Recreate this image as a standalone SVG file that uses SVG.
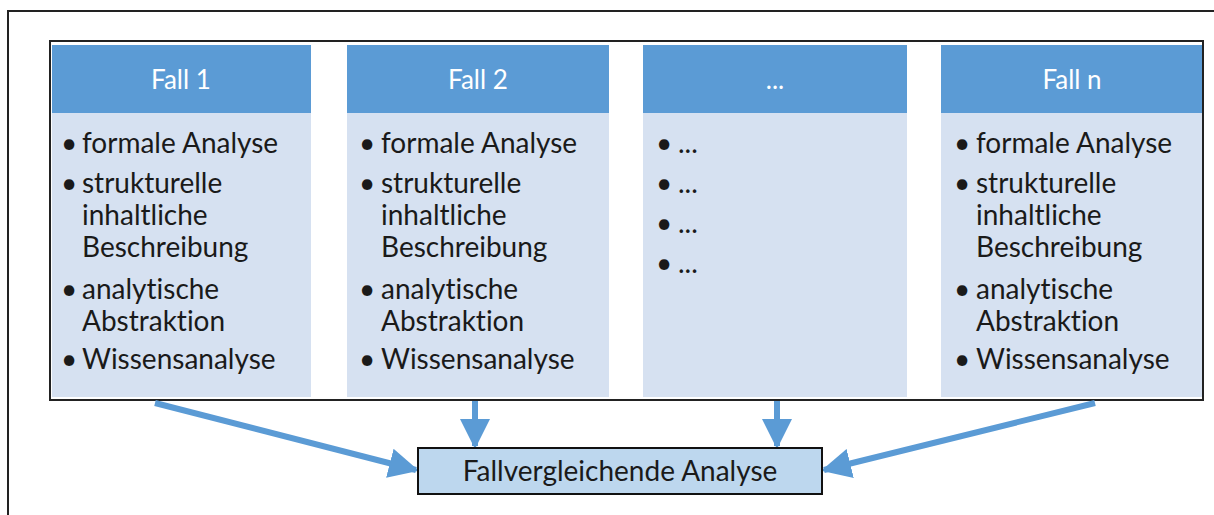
<svg xmlns="http://www.w3.org/2000/svg" width="1214" height="515" viewBox="0 0 1214 515">
<defs>
<style>
text{font-variant-ligatures:none;font-feature-settings:"liga" 0,"dlig" 0}
.hd{fill:#5B9BD5}
.bd{fill:#D6E1F1}
.ht{font-family:"Lato","Liberation Sans",sans-serif;font-size:26px;fill:#fff;text-anchor:middle}
.bt{font-family:"Lato","Liberation Sans",sans-serif;font-size:28px;fill:#1a1a1a}
.bu{font-family:"Lato","Liberation Sans",sans-serif;font-size:28px;fill:#1a1a1a;text-anchor:middle}
.ar{stroke:#5B9BD5;stroke-width:6;fill:none}
</style>
<marker id="ah" viewBox="0 0 10 10" refX="9" refY="5" markerWidth="5" markerHeight="5" orient="auto" markerUnits="strokeWidth">
<path d="M0,0 L10,5 L0,10 z" fill="#5B9BD5"/>
</marker>
</defs>
<rect width="1214" height="515" fill="#fff"/>
<path d="M8,515 L8,11 L1214,11" fill="none" stroke="#222" stroke-width="2"/>
<rect x="50" y="41" width="1153" height="359" fill="none" stroke="#222" stroke-width="2"/>
<g id="fall1">
<rect class="bd" x="52" y="113" width="259" height="284"/>
<rect class="hd" x="52" y="45" width="259" height="68"/>
<text class="ht" x="181" y="89">Fall 1</text>
<text class="bu"><tspan x="69" y="153">•</tspan><tspan x="69" y="193">•</tspan><tspan x="69" y="299">•</tspan><tspan x="69" y="369">•</tspan></text>
<text class="bt"><tspan x="82" y="153">formale Analyse</tspan><tspan x="82" y="193">strukturelle</tspan><tspan x="82" y="225">inhaltliche</tspan><tspan x="82" y="257">Beschreibung</tspan><tspan x="82" y="299">analytische</tspan><tspan x="82" y="331">Abstraktion</tspan><tspan x="82" y="369">Wissensanalyse</tspan></text>
</g>
<g id="fall2">
<rect class="bd" x="347" y="113" width="262" height="284"/>
<rect class="hd" x="347" y="45" width="262" height="68"/>
<text class="ht" x="478" y="89">Fall 2</text>
<text class="bu"><tspan x="367" y="153">•</tspan><tspan x="367" y="193">•</tspan><tspan x="367" y="299">•</tspan><tspan x="367" y="369">•</tspan></text>
<text class="bt"><tspan x="381" y="153">formale Analyse</tspan><tspan x="381" y="193">strukturelle</tspan><tspan x="381" y="225">inhaltliche</tspan><tspan x="381" y="257">Beschreibung</tspan><tspan x="381" y="299">analytische</tspan><tspan x="381" y="331">Abstraktion</tspan><tspan x="381" y="369">Wissensanalyse</tspan></text>
</g>
<g id="dots">
<rect class="bd" x="643" y="113" width="264" height="284"/>
<rect class="hd" x="643" y="45" width="264" height="68"/>
<text class="ht" x="775" y="89">...</text>
<text class="bu"><tspan x="664" y="153">•</tspan><tspan x="664" y="193">•</tspan><tspan x="664" y="233">•</tspan><tspan x="664" y="273">•</tspan></text>
<text class="bt"><tspan x="678" y="153">...</tspan><tspan x="678" y="193">...</tspan><tspan x="678" y="233">...</tspan><tspan x="678" y="273">...</tspan></text>
</g>
<g id="falln">
<rect class="bd" x="941" y="113" width="261" height="284"/>
<rect class="hd" x="941" y="45" width="261" height="68"/>
<text class="ht" x="1072" y="89">Fall n</text>
<text class="bu"><tspan x="962" y="153">•</tspan><tspan x="962" y="193">•</tspan><tspan x="962" y="299">•</tspan><tspan x="962" y="369">•</tspan></text>
<text class="bt"><tspan x="976" y="153">formale Analyse</tspan><tspan x="976" y="193">strukturelle</tspan><tspan x="976" y="225">inhaltliche</tspan><tspan x="976" y="257">Beschreibung</tspan><tspan x="976" y="299">analytische</tspan><tspan x="976" y="331">Abstraktion</tspan><tspan x="976" y="369">Wissensanalyse</tspan></text>
</g>
<g id="connectors">
<line class="ar" x1="155" y1="403" x2="416" y2="470" marker-end="url(#ah)"/>
<line class="ar" x1="475" y1="401" x2="475" y2="446" marker-end="url(#ah)"/>
<line class="ar" x1="777" y1="401" x2="777" y2="446" marker-end="url(#ah)"/>
<line class="ar" x1="1095" y1="403" x2="824" y2="470" marker-end="url(#ah)"/>
</g>
<g id="fallvergleich">
<rect x="418" y="448" width="404" height="46" fill="#BDD7EE" stroke="#111" stroke-width="2"/>
<text x="620" y="481" font-family="Lato, 'Liberation Sans', sans-serif" font-size="28" fill="#1a1a1a" text-anchor="middle">Fallvergleichende Analyse</text>
</g>
</svg>
